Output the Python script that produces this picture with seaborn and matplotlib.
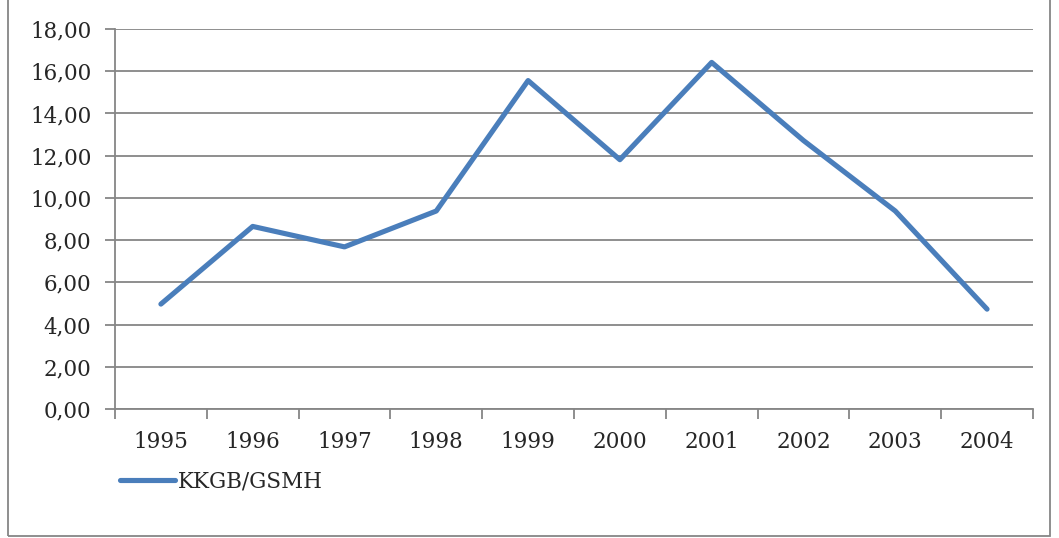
import numpy as np
import pandas as pd
import seaborn as sns
import matplotlib.pyplot as plt
from matplotlib.patches import Rectangle
from matplotlib.ticker import FixedLocator, FuncFormatter

# data
years = ['1995', '1996', '1997', '1998', '1999', '2000', '2001', '2002', '2003', '2004']
values = [4.97, 8.65, 7.68, 9.38, 15.56, 11.81, 16.42, 12.72, 9.38, 4.73]
series_name = 'KKGB/GSMH'

sns.set_theme(style='white')
plt.rcParams['font.family'] = ['DejaVu Serif']

grid_color = '#868686'
line_color = '#4A7EBB'
font_size = 15.5

df = pd.DataFrame({'Year': years, 'Value': values})

fig = plt.figure(figsize=(10.59, 5.38), dpi=100)
ax = fig.add_axes([0.1086, 0.2398, 0.8668, 0.7062])

sns.lineplot(data=df, x='Year', y='Value', ax=ax, color=line_color,
             linewidth=3.7, label=series_name, sort=False)

# y axis
ax.set_ylim(0, 18)
ax.set_yticks(np.arange(0, 18.1, 2))
ax.yaxis.set_major_formatter(FuncFormatter(lambda v, p: f'{v:.2f}'.replace('.', ',')))
ax.grid(axis='y', color=grid_color, linewidth=1.3)
ax.grid(axis='x', visible=False)

# x axis: ticks at category boundaries, labels at centres
n = len(years)
ax.set_xlim(-0.5, n - 0.5)
ax.xaxis.set_major_locator(FixedLocator(np.arange(-0.5, n, 1.0)))
ax.xaxis.set_major_formatter(FuncFormatter(lambda v, p: ''))
ax.xaxis.set_minor_locator(FixedLocator(np.arange(n)))
ax.set_xticklabels(years, minor=True)
ax.tick_params(axis='x', which='major', direction='out', length=7, width=1.3,
               color=grid_color, bottom=True)
ax.tick_params(axis='x', which='minor', length=0, pad=16, labelsize=font_size)
ax.tick_params(axis='y', direction='out', length=7, width=1.3, color=grid_color,
               left=True, pad=10, labelsize=font_size)

for side in ['top', 'right']:
    ax.spines[side].set_visible(False)
for side in ['left', 'bottom']:
    ax.spines[side].set_color(grid_color)
    ax.spines[side].set_linewidth(1.3)

ax.set_xlabel('')
ax.set_ylabel('')

ax.legend(loc='center left', bbox_to_anchor=(-0.004, -0.19), frameon=False,
          handlelength=2.55, handletextpad=0.12, fontsize=font_size, borderaxespad=0)

# outer chart border
fig.patches.append(Rectangle((8 / 1059, 2 / 538), 1042 / 1059, 540 / 538,
                             transform=fig.transFigure, fill=False,
                             edgecolor=grid_color, linewidth=1.3))

fig.savefig('out.png', dpi=100)
